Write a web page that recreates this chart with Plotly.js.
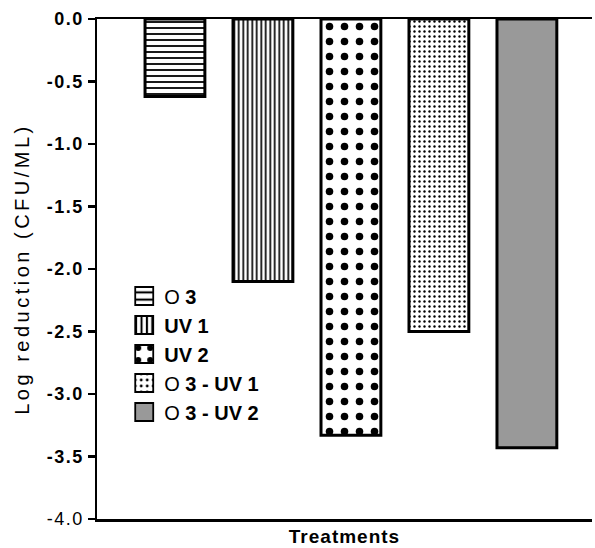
<!DOCTYPE html>
<html>
<head>
<meta charset="utf-8">
<script src="https://cdn.plot.ly/plotly-3.0.1.min.js"></script>
<style>
html,body{margin:0;padding:0;background:#fff;}
#chart{width:595px;height:548px;}
#chart .ytick text{letter-spacing:1.5px;font-weight:bold !important;}
#chart .yaxislayer-above .ytick:first-child text,
#chart .yaxislayer-above .ytick:last-child text{font-weight:normal !important;}
#chart .xtitle{letter-spacing:1px;}
#chart .ytitle{letter-spacing:3.5px;}
#chart .legend .legendpoints path{transform:translate(20px,0px) scale(1.5);stroke-width:1.2px !important;}
</style>
</head>
<body>
<div id="chart"></div>
<script>
const categories = ["O3", "UV1", "UV2", "O3-UV1", "O3-UV2"];
const legendNames = ["O <b>3</b>", "<b>UV 1</b>", "<b>UV 2</b>", "O <b>3 - UV 1</b>", "O <b>3 - UV 2</b>"];
const logReduction = [-0.62, -2.1, -3.33, -2.5, -3.43];
const tickValues = [0, -0.5, -1, -1.5, -2, -2.5, -3, -3.5, -4];
const tickLabels = ["0.0", "-0.5", "-1.0", "-1.5", "-2.0", "-2.5", "-3.0", "-3.5", "-4.0"];

const fills = [
  {color: "#ffffff", pattern: {shape: "-", size: 6, solidity: 0.3, fgcolor: "#000", bgcolor: "#fff"}},
  {color: "#ffffff", pattern: {shape: "|", size: 4.5, solidity: 0.38, fgcolor: "#000", bgcolor: "#fff"}},
  {color: "#ffffff", pattern: {shape: ".", size: 15, solidity: 0.2, fgcolor: "#000", bgcolor: "#fff"}},
  {color: "#ffffff", pattern: {shape: ".", size: 5, solidity: 0.18, fgcolor: "#000", bgcolor: "#fff"}},
  {color: "#999999"}
];

const traces = categories.map((c, i) => ({
  type: "bar",
  x: [c],
  y: [logReduction[i]],
  name: legendNames[i],
  legendgroup: "g" + i,
  marker: Object.assign({line: {color: "#000", width: 3}}, fills[i]),
  hoverinfo: "x+y"
}));

const layout = {
  width: 595,
  height: 548,
  margin: {l: 97, r: 3, t: 19, b: 29},
  paper_bgcolor: "#fff",
  plot_bgcolor: "#fff",
  barmode: "overlay",
  bargap: 0.32,
  font: {family: "Arial, 'Liberation Sans', sans-serif", color: "#000", size: 15},
  showlegend: true,
  legend: {
    x: 0.055, y: 0.485, xanchor: "left", yanchor: "top",
    bgcolor: "rgba(0,0,0,0)",
    font: {size: 20, color: "#000"},
    tracegroupgap: 6.5,
    traceorder: "normal"
  },
  xaxis: {
    type: "category",
    range: [-0.886, 4.74],
    showticklabels: false,
    ticks: "",
    showgrid: false,
    zeroline: false,
    showline: true,
    mirror: true,
    linecolor: "#000",
    linewidth: 2.5,
    title: {text: "<b>Treatments</b>", font: {size: 19}, standoff: 9}
  },
  yaxis: {
    range: [-4, 0],
    tickvals: tickValues,
    ticktext: tickLabels,
    ticks: "outside",
    ticklen: 7,
    tickwidth: 2.5,
    tickcolor: "#000",
    showgrid: false,
    zeroline: false,
    showline: true,
    linecolor: "#000",
    linewidth: 2.5,
    tickfont: {size: 18},
    title: {text: "Log reduction (CFU/ML)", font: {size: 20}, standoff: 18}
  }
};

Plotly.newPlot("chart", traces, layout, {displayModeBar: false, staticPlot: true});
</script>
</body>
</html>
